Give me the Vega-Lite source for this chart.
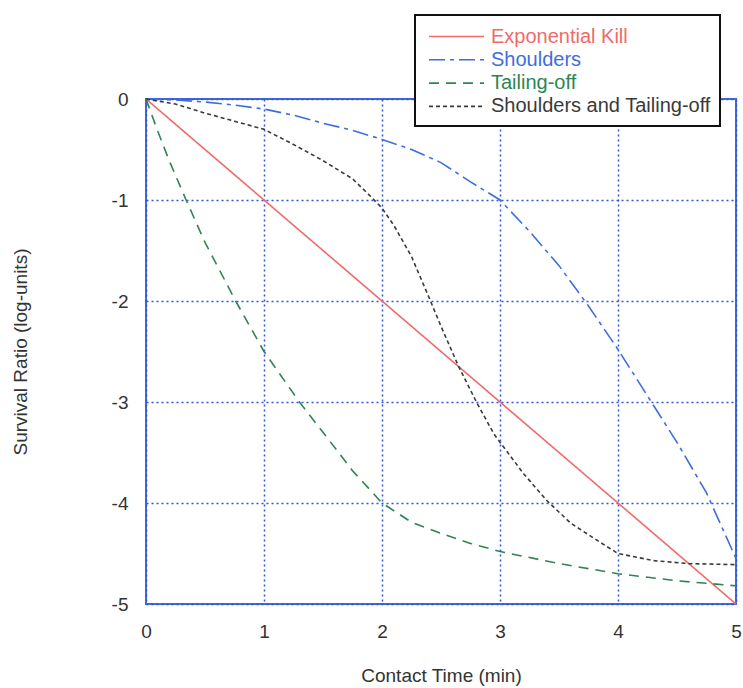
{
  "$schema": "https://vega.github.io/schema/vega-lite/v6.json",
  "width": 590,
  "height": 505,
  "autosize": {"type": "none"},
  "padding": {"left": 146, "top": 99, "right": 7, "bottom": 84},
  "background": "white",
  "config": {
    "font": "Liberation Sans",
    "view": {"stroke": "#4466dd", "strokeWidth": 2},
    "axis": {
      "grid": true, "gridColor": "#2f55e0", "gridDash": [2, 3], "gridWidth": 1.5, "gridOpacity": 1,
      "domain": false, "ticks": false, "labelFlush": false,
      "labelFont": "Liberation Sans", "labelFontSize": 19, "labelColor": "#333",
      "titleFont": "Liberation Sans", "titleFontSize": 19, "titleFontWeight": "normal", "titleColor": "#333"
    },
    "legend": {
      "orient": "none", "legendX": 269, "legendY": -84,
      "fillColor": "white", "strokeColor": "#111", "padding": 9,
      "symbolType": "M-0.65,0H4.13", "symbolSize": 529, "symbolStrokeWidth": 1.6,
      "rowPadding": 0.3, "labelFontSize": 20, "labelOffset": 42, "labelFont": "Liberation Sans",
      "labelLimit": 400
    }
  },
  "data": {
    "values": [
      {"series": "Exponential Kill", "t": 0, "s": 0},
      {"series": "Exponential Kill", "t": 1, "s": -1},
      {"series": "Exponential Kill", "t": 2, "s": -2},
      {"series": "Exponential Kill", "t": 3, "s": -3},
      {"series": "Exponential Kill", "t": 4, "s": -4},
      {"series": "Exponential Kill", "t": 5, "s": -5},
      {"series": "Shoulders", "t": 0, "s": 0},
      {"series": "Shoulders", "t": 0.25, "s": -0.01},
      {"series": "Shoulders", "t": 0.5, "s": -0.03},
      {"series": "Shoulders", "t": 0.75, "s": -0.06},
      {"series": "Shoulders", "t": 1, "s": -0.1},
      {"series": "Shoulders", "t": 1.25, "s": -0.16},
      {"series": "Shoulders", "t": 1.5, "s": -0.24},
      {"series": "Shoulders", "t": 1.75, "s": -0.31},
      {"series": "Shoulders", "t": 2, "s": -0.4},
      {"series": "Shoulders", "t": 2.25, "s": -0.5},
      {"series": "Shoulders", "t": 2.5, "s": -0.63},
      {"series": "Shoulders", "t": 2.75, "s": -0.82},
      {"series": "Shoulders", "t": 3, "s": -1.0},
      {"series": "Shoulders", "t": 3.25, "s": -1.31},
      {"series": "Shoulders", "t": 3.5, "s": -1.65},
      {"series": "Shoulders", "t": 3.75, "s": -2.05},
      {"series": "Shoulders", "t": 4, "s": -2.48},
      {"series": "Shoulders", "t": 4.25, "s": -2.94},
      {"series": "Shoulders", "t": 4.5, "s": -3.4},
      {"series": "Shoulders", "t": 4.75, "s": -3.9},
      {"series": "Shoulders", "t": 5, "s": -4.55},
      {"series": "Tailing-off", "t": 0, "s": 0},
      {"series": "Tailing-off", "t": 0.1, "s": -0.32},
      {"series": "Tailing-off", "t": 0.2, "s": -0.62},
      {"series": "Tailing-off", "t": 0.34, "s": -1.0},
      {"series": "Tailing-off", "t": 0.5, "s": -1.42},
      {"series": "Tailing-off", "t": 0.76, "s": -2.0},
      {"series": "Tailing-off", "t": 1, "s": -2.5},
      {"series": "Tailing-off", "t": 1.3, "s": -3.0},
      {"series": "Tailing-off", "t": 1.5, "s": -3.3},
      {"series": "Tailing-off", "t": 1.75, "s": -3.68},
      {"series": "Tailing-off", "t": 2, "s": -4.0},
      {"series": "Tailing-off", "t": 2.25, "s": -4.19},
      {"series": "Tailing-off", "t": 2.5, "s": -4.3},
      {"series": "Tailing-off", "t": 2.75, "s": -4.4},
      {"series": "Tailing-off", "t": 3, "s": -4.48},
      {"series": "Tailing-off", "t": 3.5, "s": -4.6},
      {"series": "Tailing-off", "t": 4, "s": -4.7},
      {"series": "Tailing-off", "t": 4.5, "s": -4.77},
      {"series": "Tailing-off", "t": 5, "s": -4.82},
      {"series": "Shoulders and Tailing-off", "t": 0, "s": 0},
      {"series": "Shoulders and Tailing-off", "t": 0.25, "s": -0.05},
      {"series": "Shoulders and Tailing-off", "t": 0.5, "s": -0.14},
      {"series": "Shoulders and Tailing-off", "t": 0.75, "s": -0.22},
      {"series": "Shoulders and Tailing-off", "t": 1, "s": -0.3},
      {"series": "Shoulders and Tailing-off", "t": 1.25, "s": -0.45},
      {"series": "Shoulders and Tailing-off", "t": 1.5, "s": -0.61},
      {"series": "Shoulders and Tailing-off", "t": 1.75, "s": -0.79},
      {"series": "Shoulders and Tailing-off", "t": 1.9, "s": -0.96},
      {"series": "Shoulders and Tailing-off", "t": 2, "s": -1.08},
      {"series": "Shoulders and Tailing-off", "t": 2.1, "s": -1.25},
      {"series": "Shoulders and Tailing-off", "t": 2.25, "s": -1.56},
      {"series": "Shoulders and Tailing-off", "t": 2.4, "s": -1.97},
      {"series": "Shoulders and Tailing-off", "t": 2.5, "s": -2.25},
      {"series": "Shoulders and Tailing-off", "t": 2.65, "s": -2.65},
      {"series": "Shoulders and Tailing-off", "t": 2.8, "s": -3.0},
      {"series": "Shoulders and Tailing-off", "t": 2.95, "s": -3.32},
      {"series": "Shoulders and Tailing-off", "t": 3.2, "s": -3.71},
      {"series": "Shoulders and Tailing-off", "t": 3.4, "s": -3.98},
      {"series": "Shoulders and Tailing-off", "t": 3.6, "s": -4.2},
      {"series": "Shoulders and Tailing-off", "t": 3.85, "s": -4.39},
      {"series": "Shoulders and Tailing-off", "t": 4, "s": -4.5},
      {"series": "Shoulders and Tailing-off", "t": 4.3, "s": -4.57},
      {"series": "Shoulders and Tailing-off", "t": 4.6, "s": -4.6},
      {"series": "Shoulders and Tailing-off", "t": 5, "s": -4.61}
    ]
  },
  "mark": {"type": "line", "strokeWidth": 1.6},
  "encoding": {
    "x": {
      "field": "t", "type": "quantitative",
      "scale": {"domain": [0, 5], "nice": false},
      "axis": {"values": [0, 1, 2, 3, 4, 5], "title": "Contact Time (min)", "labelPadding": 18, "titlePadding": 25}
    },
    "y": {
      "field": "s", "type": "quantitative",
      "scale": {"domain": [-5, 0], "nice": false},
      "axis": {"values": [0, -1, -2, -3, -4, -5], "labelExpr": "replace(datum.label, '\u2212', '-')", "title": "Survival Ratio (log-units)", "labelPadding": 18, "titlePadding": 81}
    },
    "color": {
      "field": "series", "type": "nominal",
      "scale": {
        "domain": ["Exponential Kill", "Shoulders", "Tailing-off", "Shoulders and Tailing-off"],
        "range": ["#f06a6a", "#3d6ee0", "#2e8553", "#3a3a3a"]
      },
      "legend": {
        "title": null,
        "encode": {
          "labels": {"update": {"fill": {"scale": "color", "field": "value"}}},
          "legend": {"update": {"strokeWidth": {"value": 2}}}
        }
      }
    },
    "strokeDash": {
      "field": "series", "type": "nominal",
      "scale": {
        "domain": ["Exponential Kill", "Shoulders", "Tailing-off", "Shoulders and Tailing-off"],
        "range": [[1, 0], [16, 5, 4, 5], [10, 7], [4, 3]]
      },
      "legend": {"title": null}
    }
  }
}
